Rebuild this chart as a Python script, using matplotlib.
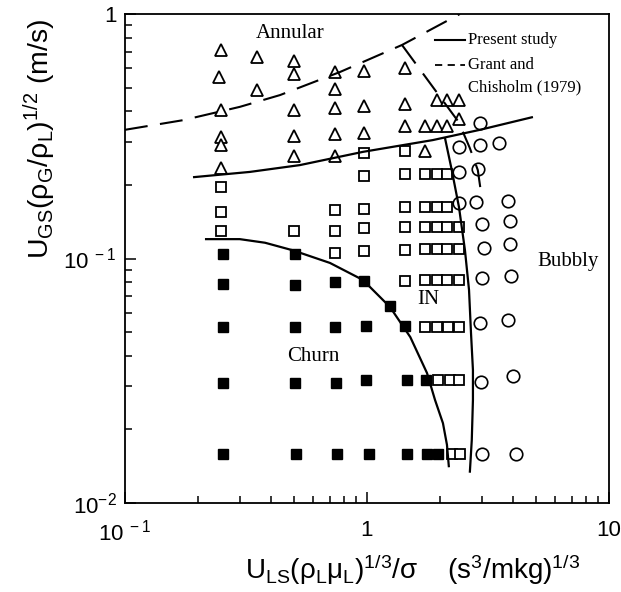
import matplotlib
matplotlib.use("Agg")
import matplotlib.pyplot as plt
from matplotlib.ticker import LogLocator, NullFormatter, FixedLocator

plt.rcParams["font.family"] = "Liberation Sans"
plt.rcParams["mathtext.fontset"] = "custom"
plt.rcParams["mathtext.rm"] = "Liberation Sans"
plt.rcParams["mathtext.it"] = "Liberation Sans:italic"
plt.rcParams["mathtext.default"] = "regular"

# Annular (open triangles)
tri_x = [0.25, 0.245, 0.25, 0.25, 0.25, 0.25,
         0.35, 0.35,
         0.5, 0.5, 0.5, 0.5, 0.5,
         0.74, 0.74, 0.74, 0.74, 0.74,
         0.97, 0.97, 0.97,
         1.44, 1.44, 1.44,
         1.73, 1.73,
         1.94, 1.94,
         2.15, 2.15,
         2.39, 2.39]
tri_y = [0.71, 0.553, 0.405, 0.314, 0.291, 0.234,
         0.667, 0.489,
         0.642, 0.568, 0.405, 0.317, 0.263,
         0.579, 0.494, 0.413, 0.323, 0.263,
         0.585, 0.42, 0.326,
         0.601, 0.428, 0.348,
         0.348, 0.275,
         0.445, 0.348,
         0.445, 0.348,
         0.445, 0.372]

# Intermittent (open squares)
osq_x = [0.25, 0.25, 0.25,
         0.5,
         0.74, 0.74, 0.74,
         0.97, 0.97, 0.97, 0.97, 0.97,
         1.44, 1.44, 1.44, 1.44, 1.44, 1.44,
         1.73, 1.73, 1.73, 1.73, 1.73, 1.73,
         1.94, 1.94, 1.94, 1.94, 1.94, 1.94, 1.96,
         2.15, 2.15, 2.15, 2.15, 2.15, 2.17, 2.2, 2.24,
         2.39, 2.39, 2.39, 2.39, 2.39, 2.42]
osq_y = [0.196, 0.155, 0.13,
         0.13,
         0.158, 0.13, 0.105,
         0.27, 0.218, 0.16, 0.133, 0.107,
         0.275, 0.222, 0.162, 0.134, 0.108, 0.081,
         0.222, 0.162, 0.134, 0.109, 0.082, 0.0525,
         0.222, 0.162, 0.134, 0.109, 0.082, 0.0525, 0.0318,
         0.222, 0.162, 0.134, 0.109, 0.082, 0.0525, 0.0318, 0.0159,
         0.134, 0.109, 0.082, 0.0525, 0.0318, 0.0159]

# Churn (filled squares)
fsq_x = [0.254, 0.254, 0.254, 0.254, 0.254,
         0.504, 0.504, 0.504, 0.504, 0.51,
         0.737, 0.74, 0.745, 0.752,
         0.97, 0.99, 0.99, 1.02,
         1.245,
         1.44, 1.46, 1.46,
         1.75, 1.77,
         1.96]
fsq_y = [0.104, 0.079, 0.0525, 0.031, 0.0159,
         0.104, 0.078, 0.0525, 0.031, 0.0159,
         0.080, 0.0525, 0.031, 0.0159,
         0.081, 0.053, 0.0318, 0.0159,
         0.064,
         0.053, 0.0318, 0.0159,
         0.0318, 0.0159,
         0.0159]

# Bubbly (open circles)
cir_x = [2.39, 2.39, 2.41, 2.93, 2.93, 3.51, 2.87, 2.82, 3.83,
         2.99, 3.9, 3.04, 3.9, 2.99, 3.93, 2.93, 3.83, 2.95, 4.0, 2.99, 4.13]
cir_y = [0.169, 0.226, 0.286, 0.358, 0.291, 0.297, 0.232, 0.170, 0.172,
         0.139, 0.142, 0.110, 0.115, 0.083, 0.085, 0.0545, 0.0558, 0.0313, 0.033, 0.0159, 0.0159]

# Transition lines, present study
ann_x = [0.191, 0.328, 0.528, 0.962, 1.87, 2.93, 4.85]
ann_y = [0.215, 0.226, 0.241, 0.273, 0.305, 0.336, 0.379]
bub_x = [2.10, 2.24, 2.40, 2.54, 2.64, 2.69, 2.74, 2.74, 2.71, 2.66]
bub_y = [0.311, 0.230, 0.162, 0.108, 0.0743, 0.0496, 0.035, 0.0264, 0.0181, 0.0133]
chu_x = [0.214, 0.298, 0.379, 0.494, 0.703, 0.962, 1.245, 1.51, 1.77, 1.91, 2.06, 2.14, 2.18]
chu_y = [0.120, 0.120, 0.116, 0.108, 0.0959, 0.0817, 0.0633, 0.0477, 0.034, 0.0264, 0.0212, 0.0173, 0.0140]

# Grant and Chisholm (1979)
gc_x = [0.1, 0.174, 0.298, 0.437, 0.773, 1.395, 2.42]
gc_y = [0.336, 0.368, 0.417, 0.466, 0.579, 0.747, 1.0]
gcb_x = [1.395, 1.91, 2.39, 2.66, 2.87, 2.99]
gcb_y = [0.747, 0.489, 0.362, 0.283, 0.230, 0.173]

fig = plt.figure(figsize=(6.21, 5.92), dpi=100)
ax = fig.add_axes([125 / 621, 89 / 592, 484 / 621, 489 / 592])

ax.plot(tri_x, tri_y, ls="none", marker="^", ms=8.5, mfc="white", mec="black", mew=1.3)
ax.plot(osq_x, osq_y, ls="none", marker="s", ms=7.5, mfc="white", mec="black", mew=1.3)
ax.plot(fsq_x, fsq_y, ls="none", marker="s", ms=7.5, mfc="black", mec="black", mew=1.0)
ax.plot(cir_x, cir_y, ls="none", marker="o", ms=9, mfc="none", mec="black", mew=1.2)

for xs, ys in [(ann_x, ann_y), (bub_x, bub_y), (chu_x, chu_y)]:
    ax.plot(xs, ys, color="black", lw=1.6, solid_capstyle="butt", solid_joinstyle="round")
for xs, ys in [(gc_x, gc_y), (gcb_x, gcb_y)]:
    ax.plot(xs, ys, color="black", lw=1.5, dashes=(11, 6))

ax.set_xscale("log")
ax.set_yscale("log")
ax.set_xlim(0.1, 10)
ax.set_ylim(0.01, 1)

ax.xaxis.set_major_locator(FixedLocator([0.1, 1, 10]))
ax.yaxis.set_major_locator(FixedLocator([0.01, 0.1, 1]))
ax.set_xticklabels([r"$10^{\ -1}$", "1", "10"])
ax.set_yticklabels([r"$10^{-2}$", r"$10^{\ -1}$", "1"])
ax.xaxis.set_minor_locator(LogLocator(base=10, subs=range(2, 10)))
ax.yaxis.set_minor_locator(LogLocator(base=10, subs=range(2, 10)))
ax.xaxis.set_minor_formatter(NullFormatter())
ax.yaxis.set_minor_formatter(NullFormatter())
ax.tick_params(which="both", direction="in", top=False, right=False, width=1.1, labelsize=16)
ax.tick_params(which="major", length=8)
ax.tick_params(which="minor", length=5)
ax.tick_params(axis="x", pad=12)
ax.tick_params(axis="y", pad=6)
for s in ax.spines.values():
    s.set_linewidth(1.3)

serif = "Liberation Serif"
ax.text(0.481, 0.836, "Annular", family=serif, fontsize=15, ha="center", va="center")
ax.text(6.77, 0.0968, "Bubbly", family=serif, fontsize=15, ha="center", va="center")
ax.text(1.80, 0.0677, "IN", family=serif, fontsize=15, ha="center", va="center")
ax.text(0.598, 0.0399, "Churn", family=serif, fontsize=15, ha="center", va="center")

# legend drawn by hand
ax.plot([0.640, 0.702], [0.947, 0.947], transform=ax.transAxes, color="black", lw=1.5)
ax.plot([0.640, 0.702], [0.896, 0.896], transform=ax.transAxes, color="black", lw=1.3, dashes=(4, 3))
ax.text(0.709, 0.947, "Present study", transform=ax.transAxes, family=serif, fontsize=12, va="center")
ax.text(0.709, 0.896, "Grant and", transform=ax.transAxes, family=serif, fontsize=12, va="center")
ax.text(0.709, 0.849, "Chisholm (1979)", transform=ax.transAxes, family=serif, fontsize=12, va="center")

fig.text(0.064, 0.765, r"$U_{GS}(\rho_G/\rho_L)^{1/2}$ (m/s)", rotation=90, fontsize=20.5,
         ha="center", va="center")
fig.text(0.665, 0.022, r"$U_{LS}(\rho_L\mu_L)^{1/3}/\sigma$    $(s^3/mkg)^{1/3}$", fontsize=20,
         ha="center", va="baseline")

fig.savefig("out.png", dpi=100, facecolor="white")
